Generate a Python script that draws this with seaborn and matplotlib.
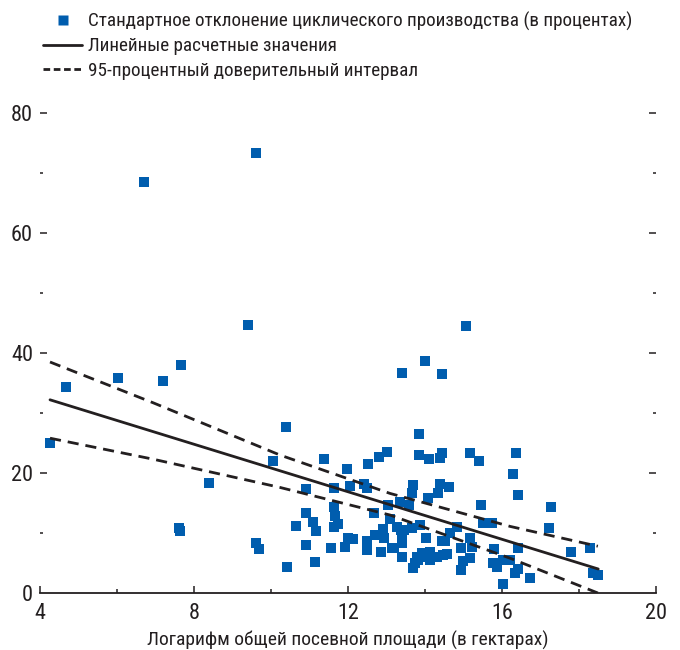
import numpy as np
import pandas as pd
import matplotlib
matplotlib.use("Agg")
import matplotlib.pyplot as plt
from matplotlib import font_manager
from matplotlib.lines import Line2D
import seaborn as sns

# ---- data ----
x_vals = [4.26, 4.68, 6.03, 6.70, 7.19, 7.66, 7.61, 7.64, 8.39, 9.40,
          9.61, 9.61, 9.69, 10.05, 10.39, 10.42, 10.65, 10.91, 10.91, 10.91,
          11.09, 11.17, 11.14, 11.38, 11.56, 11.64, 11.64, 11.66, 11.64, 11.74,
          11.97, 12.05, 12.00, 12.13, 11.92, 12.42, 12.49, 12.52, 12.49, 12.49,
          12.68, 12.70, 12.81, 12.86, 12.91, 12.94, 13.01, 13.04, 13.10, 13.19,
          13.27, 13.38, 13.35, 13.58, 13.40, 13.40, 13.40, 13.40, 13.66, 13.69,
          13.66, 13.84, 13.84, 13.87, 13.69, 13.74, 13.82, 13.79, 13.92, 14.05,
          14.13, 14.13, 14.00, 14.03, 14.08, 14.10, 14.31, 14.47, 14.57, 14.44,
          14.52, 14.39, 14.44, 14.44, 14.39, 14.34, 14.62, 14.65, 14.83, 14.94,
          14.99, 14.94, 15.06, 15.17, 15.17, 15.22, 15.17, 15.40, 15.45, 15.51,
          15.74, 15.79, 15.77, 15.87, 16.03, 16.21, 16.03, 16.36, 16.29, 16.42,
          16.42, 16.42, 16.34, 16.73, 17.27, 17.22, 17.79, 18.29, 18.36, 18.49,
          13.15, 13.45]
y_vals = [25.0, 34.3, 35.8, 68.5, 35.3, 38.0, 10.8, 10.3, 18.3, 44.7,
          73.3, 8.3, 7.3, 22.0, 27.7, 4.3, 11.2, 17.3, 13.3, 8.0,
          11.8, 10.3, 5.2, 22.3, 7.5, 17.5, 14.3, 12.8, 11.0, 11.5,
          20.7, 17.8, 9.2, 9.0, 7.7, 18.2, 17.5, 21.5, 8.7, 7.2,
          13.3, 9.7, 22.7, 6.8, 10.7, 9.2, 23.5, 14.7, 12.3, 7.5,
          11.0, 10.5, 15.2, 14.7, 36.7, 8.3, 6.0, 9.7, 10.8, 18.0,
          16.7, 26.5, 23.0, 11.3, 4.2, 5.0, 5.5, 6.0, 6.7, 6.0,
          6.8, 5.5, 38.7, 9.2, 15.8, 22.3, 6.0, 6.3, 6.5, 8.7,
          8.7, 22.5, 23.3, 36.5, 18.2, 16.7, 17.7, 10.0, 11.0, 7.5,
          5.3, 3.8, 44.5, 23.3, 9.2, 7.7, 5.8, 22.0, 14.7, 11.7,
          11.7, 7.3, 5.0, 4.3, 5.5, 5.5, 1.5, 23.3, 19.8, 16.3,
          7.5, 4.0, 3.3, 2.5, 14.3, 10.8, 6.8, 7.5, 3.3, 3.0,
          7.5, 10.5]

fit_x = [4.26, 18.5]
fit_y = [32.2, 4.0]

ci_x = [4.26, 6.94, 10.23, 13.09, 16.21, 18.49]
ci_upper = [38.5, 31.7, 23.0, 16.6, 11.1, 7.8]
ci_lower = [25.8, 22.3, 17.6, 13.0, 5.8, 0.0]

x_ticks = [4, 8, 12, 16, 20]
x_minor = [6, 10, 14, 18]
y_ticks = [0, 20, 40, 60, 80]
y_minor = [10, 30, 50, 70]

legend_labels = ["Стандартное отклонение циклического производства (в процентах)",
                 "Линейные расчетные значения",
                 "95-процентный доверительный интервал"]
x_label = "Логарифм общей посевной площади (в гектарах)"

# ---- style ----
sns.set_theme(style="white")
avail = {f.name for f in font_manager.fontManager.ttflist}
fam = "Liberation Sans"
for cand in ["Liberation Sans Narrow", "Roboto Condensed", "Liberation Sans"]:
    if cand in avail:
        fam = cand
        break
plt.rcParams["font.family"] = [fam, "DejaVu Sans"]

BLUE = "#005DAE"
INK = "#231F20"

fig = plt.figure(figsize=(6.8, 6.5), dpi=100)
ax = fig.add_axes([40 / 680, 1 - 593 / 650, 616 / 680, 480 / 650])

pts = pd.DataFrame({"x": x_vals, "y": y_vals})
sns.scatterplot(data=pts, x="x", y="y", ax=ax, marker="s", s=52,
                color=BLUE, edgecolor="none", linewidth=0, zorder=3, clip_on=False)

fit = pd.DataFrame({"x": fit_x, "y": fit_y})
sns.lineplot(data=fit, x="x", y="y", ax=ax, color=INK, linewidth=2.0,
             estimator=None, sort=False, zorder=4)
up = pd.DataFrame({"x": ci_x, "y": ci_upper})
lo = pd.DataFrame({"x": ci_x, "y": ci_lower})
for d in (up, lo):
    sns.lineplot(data=d, x="x", y="y", ax=ax, color=INK, linewidth=2.0,
                 linestyle=(0, (4.0, 2.5)), estimator=None, sort=False, zorder=4)

ax.set_xlim(4, 20)
ax.set_ylim(0, 80)
ax.set_xticks(x_ticks)
ax.set_xticks(x_minor, minor=True)
ax.set_yticks(y_ticks)
ax.set_yticks(y_minor, minor=True)
ax.set_xticklabels([str(t) for t in x_ticks])
ax.set_yticklabels([str(t) for t in y_ticks])
ax.set_xlabel(x_label, fontsize=14, color=INK, labelpad=5)
ax.set_ylabel("")

for s in ["top", "left", "right"]:
    ax.spines[s].set_visible(False)
ax.spines["bottom"].set_color(INK)
ax.spines["bottom"].set_linewidth(1.3)

ax.tick_params(axis="x", which="major", direction="in", length=5, width=1.1,
               color=INK, labelsize=16, labelcolor=INK, pad=7, bottom=True)
ax.tick_params(axis="x", which="minor", direction="in", length=3, width=1.1,
               color=INK, bottom=True)
ax.tick_params(axis="y", which="major", direction="in", length=5, width=1.1,
               color=INK, labelsize=16, labelcolor=INK, pad=5,
               left=True, right=True)
ax.tick_params(axis="y", which="minor", direction="in", length=2.5, width=1.1,
               color=INK, left=True, right=True)
ax.yaxis.get_major_ticks()[0].tick1line.set_visible(False)
ax.yaxis.get_major_ticks()[0].tick2line.set_visible(False)
ax.grid(False)

handles = [
    Line2D([], [], marker="s", linestyle="none", markersize=7.2,
           markerfacecolor=BLUE, markeredgecolor="none"),
    Line2D([], [], color=INK, linewidth=2.0),
    Line2D([], [], color=INK, linewidth=2.0, linestyle=(0, (2.4, 1.3))),
]
fig.legend(handles, legend_labels, loc="upper left",
           bbox_to_anchor=(30 / 680, 1 + 2 / 650), frameon=False,
           fontsize=13.8, handlelength=2.0, handletextpad=0.3,
           labelspacing=0.35, borderpad=0.2, labelcolor=INK)

fig.savefig("out.png", dpi=100)
